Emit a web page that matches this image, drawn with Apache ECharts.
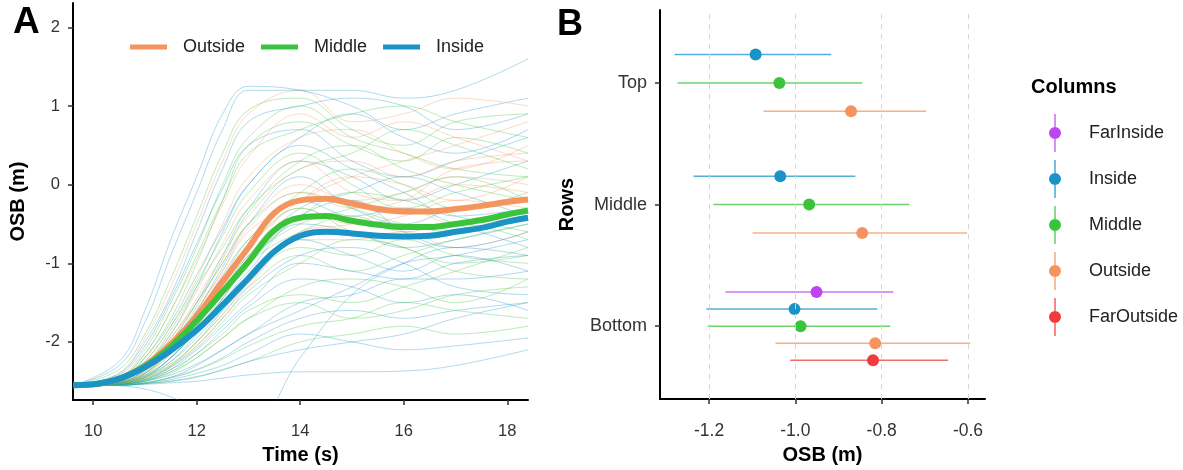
<!DOCTYPE html>
<html>
<head>
<meta charset="utf-8">
<script src="https://cdn.jsdelivr.net/npm/echarts@6/dist/echarts.min.js"></script>
<style>
  html, body { margin: 0; padding: 0; background: #fff; }
  #chartA { position: absolute; left: 0; top: 0; width: 540px; height: 470px; }
  #chartB { position: absolute; left: 540px; top: 0; width: 643px; height: 470px; }
</style>
</head>
<body>
<div id="chartA"></div>
<div id="chartB"></div>
<script>
// ---------- panel A data ----------
const meanNames = ['Outside', 'Middle', 'Inside'];
const meanColors = ['#F4955F', '#3CC33C', '#1B93C7'];
const meanTime = [9.61, 10, 10.5, 11, 11.5, 12, 12.5, 13, 13.5, 14, 14.5, 15, 15.5, 16, 16.5, 17, 17.5, 18, 18.4];
const meanOutside = [-2.55, -2.54, -2.47, -2.30, -2.03, -1.67, -1.23, -0.80, -0.36, -0.20, -0.18, -0.24, -0.31, -0.34, -0.34, -0.31, -0.27, -0.22, -0.19];
const meanMiddle = [-2.55, -2.54, -2.47, -2.31, -2.06, -1.73, -1.36, -0.98, -0.58, -0.42, -0.40, -0.46, -0.51, -0.54, -0.54, -0.50, -0.45, -0.38, -0.33];
const meanInside = [-2.55, -2.54, -2.47, -2.32, -2.11, -1.85, -1.53, -1.19, -0.85, -0.65, -0.60, -0.62, -0.65, -0.66, -0.65, -0.60, -0.55, -0.47, -0.42];

// individual trials (faint lines), sampled at traceTime; group 0/1/2 = Outside/Middle/Inside
const traceTime = [9.61, 10.5, 11, 11.5, 12, 12.5, 13, 14, 15, 16, 17, 18.4];
const traceGroup = [2, 1, 0, 2, 1, 0, 2, 1, 0, 2, 1, 2, 1, 2, 0, 2, 1, 0, 2, 1, 2, 1, 0, 2, 1, 2, 1, 2, 2, 1, 2,
  1, 2, 0, 1, 2, 0, 1, 2, 1, 0, 2, 1, 2, 1, 0, 2, 1, 2, 1, 2, 0, 1, 2, 0, 1];
const traceValues = [
  [-2.55, -2.25, -1.60, -0.70, 0.10, 0.90, 1.25, 1.20, 1.00, 0.70, 0.90, 1.10],
  [-2.55, -2.50, -2.20, -1.70, -1.00, -0.20, 0.50, 0.80, 0.50, 0.30, 0.60, 0.40],
  [-2.55, -2.50, -2.25, -1.80, -1.20, -0.50, 0.10, 0.60, 0.70, 0.40, 0.20, 0.50],
  [-2.55, -2.52, -2.35, -2.00, -1.50, -0.90, -0.30, 0.30, 0.10, -0.20, 0.00, 0.30],
  [-2.55, -2.52, -2.40, -2.10, -1.70, -1.20, -0.70, -0.10, 0.20, 0.00, -0.30, -0.10],
  [-2.55, -2.52, -2.38, -2.00, -1.50, -1.00, -0.50, 0.00, -0.20, -0.10, 0.10, 0.00],
  [-2.55, -2.53, -2.45, -2.25, -1.90, -1.50, -1.10, -0.50, -0.60, -0.80, -0.70, -0.50],
  [-2.55, -2.53, -2.45, -2.20, -1.85, -1.45, -1.00, -0.60, -0.40, -0.60, -0.50, -0.70],
  [-2.55, -2.53, -2.42, -2.15, -1.80, -1.30, -0.90, -0.30, -0.50, -0.40, -0.20, -0.30],
  [-2.55, -2.54, -2.50, -2.35, -2.10, -1.80, -1.50, -1.00, -1.10, -1.20, -1.00, -0.90],
  [-2.55, -2.54, -2.50, -2.40, -2.20, -1.95, -1.70, -1.30, -1.20, -1.30, -1.50, -1.20],
  [-2.55, -2.54, -2.52, -2.45, -2.35, -2.20, -2.00, -1.70, -1.60, -1.70, -1.60, -1.50],
  [-2.55, -2.55, -2.53, -2.50, -2.45, -2.35, -2.25, -2.00, -1.90, -1.80, -1.90, -1.80],
  [-2.55, -2.55, -2.54, -2.52, -2.50, -2.46, -2.42, -2.38, -2.38, -2.37, -2.30, -2.10],
  [-2.55, -2.40, -1.95, -1.30, -0.50, 0.30, 0.90, 1.20, 0.80, 0.90, 1.10, 1.00],
  [-2.55, -2.50, -2.30, -1.90, -1.30, -0.60, 0.00, 0.60, 0.90, 0.60, 0.40, 0.70],
  [-2.55, -2.51, -2.30, -1.85, -1.30, -0.80, -0.30, 0.20, 0.40, 0.70, 0.50, 0.20],
  [-2.55, -2.53, -2.40, -2.10, -1.60, -1.10, -0.60, -0.20, 0.10, 0.30, 0.50, 0.80],
  [-2.55, -2.53, -2.43, -2.20, -1.80, -1.35, -0.90, -0.30, -0.10, 0.10, -0.10, -0.40],
  [-2.55, -2.54, -2.47, -2.30, -2.00, -1.60, -1.20, -0.80, -0.90, -0.70, -0.90, -1.00],
  [-2.55, -2.54, -2.48, -2.32, -2.05, -1.70, -1.35, -0.90, -0.80, -1.00, -1.30, -1.40],
  [-2.55, -2.54, -2.49, -2.38, -2.15, -1.90, -1.60, -1.40, -1.50, -1.30, -1.10, -0.80],
  [-2.55, -2.53, -2.46, -2.30, -2.05, -1.70, -1.30, -0.70, -0.70, -0.60, -0.80, -0.60],
  [-2.55, -2.55, -2.53, -2.48, -2.40, -2.30, -2.15, -1.90, -2.00, -2.10, -2.05, -1.95],
  [-2.55, -2.45, -2.10, -1.50, -0.80, 0.00, 0.60, 1.00, 0.60, 0.40, 0.20, 0.10],
  [-2.55, -2.52, -2.36, -2.05, -1.60, -1.05, -0.50, 0.10, -0.30, -0.50, -0.30, -0.20],
  [-2.55, -2.53, -2.44, -2.20, -1.85, -1.40, -0.95, -0.50, -0.30, -0.10, 0.10, -0.20],
  [-2.55, -2.55, -2.52, -2.45, -2.30, -2.10, -1.90, -1.60, -1.30, -1.00, -0.90, -0.70],
  [-2.55, -2.30, -1.75, -0.90, -0.10, 0.70, 1.20, 1.20, 1.20, 1.10, 1.20, 1.60],
  [-2.55, -2.52, -2.40, -2.05, -1.55, -0.95, -0.35, 0.30, 0.50, 0.20, 0.00, -0.20],
  [-2.55, -2.56, -2.60, -2.70, -2.85, -3.00, -3.10, -2.20, -1.40, -1.00, -0.80, -0.90],
  [-2.55, -2.35, -1.90, -1.20, -0.40, 0.40, 0.95, 1.10, 0.70, 0.50, 0.80, 0.90],
  [-2.55, -2.42, -2.05, -1.45, -0.75, -0.05, 0.50, 0.70, 0.30, 0.10, 0.30, 0.60],
  [-2.55, -2.45, -2.15, -1.60, -0.95, -0.25, 0.35, 0.90, 0.60, 0.80, 0.60, 0.30],
  [-2.55, -2.48, -2.25, -1.80, -1.25, -0.65, -0.10, 0.40, 0.00, -0.30, -0.10, 0.10],
  [-2.55, -2.47, -2.20, -1.75, -1.15, -0.55, 0.00, 0.50, 0.20, -0.10, -0.40, -0.30],
  [-2.55, -2.50, -2.30, -1.95, -1.45, -0.90, -0.40, 0.20, 0.30, 0.10, 0.30, 0.40],
  [-2.55, -2.50, -2.32, -1.95, -1.50, -1.00, -0.50, -0.10, -0.30, -0.50, -0.60, -0.40],
  [-2.55, -2.51, -2.36, -2.05, -1.65, -1.15, -0.70, -0.20, -0.40, -0.30, -0.50, -0.80],
  [-2.55, -2.52, -2.40, -2.15, -1.80, -1.40, -1.00, -0.40, -0.10, -0.20, -0.40, -0.60],
  [-2.55, -2.52, -2.40, -2.10, -1.70, -1.20, -0.80, -0.20, 0.10, 0.00, -0.20, 0.10],
  [-2.55, -2.53, -2.44, -2.25, -1.95, -1.60, -1.25, -0.70, -0.90, -1.10, -0.90, -1.10],
  [-2.55, -2.53, -2.45, -2.28, -2.00, -1.65, -1.30, -0.90, -1.10, -0.90, -0.70, -0.50],
  [-2.55, -2.54, -2.48, -2.35, -2.15, -1.85, -1.55, -1.20, -1.30, -1.50, -1.40, -1.60],
  [-2.55, -2.54, -2.49, -2.38, -2.20, -1.95, -1.70, -1.50, -1.70, -1.60, -1.40, -1.30],
  [-2.55, -2.53, -2.46, -2.30, -2.00, -1.65, -1.25, -0.60, -0.50, -0.30, -0.50, -0.40],
  [-2.55, -2.54, -2.50, -2.42, -2.28, -2.10, -1.90, -1.50, -1.40, -1.20, -1.20, -1.10],
  [-2.55, -2.55, -2.52, -2.46, -2.36, -2.22, -2.05, -1.80, -1.70, -1.50, -1.60, -1.70],
  [-2.55, -2.55, -2.53, -2.50, -2.44, -2.36, -2.25, -2.10, -2.00, -1.90, -1.70, -1.50],
  [-2.55, -2.46, -2.15, -1.60, -0.90, -0.20, 0.40, 0.70, 0.90, 1.00, 0.80, 0.60],
  [-2.55, -2.40, -2.00, -1.40, -0.60, 0.20, 0.80, 1.00, 1.10, 1.00, 0.70, 0.90],
  [-2.55, -2.49, -2.28, -1.90, -1.35, -0.75, -0.20, 0.30, -0.10, -0.20, 0.00, -0.10],
  [-2.55, -2.51, -2.38, -2.10, -1.70, -1.25, -0.80, -0.30, -0.60, -0.80, -1.00, -0.90],
  [-2.55, -2.52, -2.42, -2.20, -1.85, -1.45, -1.00, -0.40, -0.20, -0.60, -0.80, -0.60],
  [-2.55, -2.51, -2.36, -2.05, -1.60, -1.10, -0.55, -0.10, -0.30, -0.20, 0.20, 0.30],
  [-2.55, -2.53, -2.47, -2.32, -2.08, -1.75, -1.40, -1.00, -0.70, -0.80, -1.10, -1.20]
];
const timeTicks = [10, 12, 14, 16, 18];
const osbTicks = [-2, -1, 0, 1, 2];

// ---------- panel B data ----------
const rowNames = ['Bottom', 'Middle', 'Top'];
const columnNames = ['FarInside', 'Inside', 'Middle', 'Outside', 'FarOutside'];
const columnColors = ['#BE45F2', '#1B93C7', '#3CC33C', '#F4955F', '#EE3B3B'];
// per column, one value per row (Bottom, Middle, Top); null = not measured
const estimate = [
  [-0.951, null, null],
  [-1.002, -1.035, -1.092],
  [-0.988, -0.968, -1.037],
  [-0.815, -0.845, -0.871],
  [-0.820, null, null]
];
const lower = [
  [-1.162, null, null],
  [-1.206, -1.236, -1.280],
  [-1.203, -1.190, -1.273],
  [-1.046, -1.099, -1.074],
  [-1.012, null, null]
];
const upper = [
  [-0.773, null, null],
  [-0.810, -0.861, -0.917],
  [-0.780, -0.736, -0.845],
  [-0.595, -0.602, -0.697],
  [-0.646, null, null]
];
const osbTicksB = [-1.2, -1.0, -0.8, -0.6];

const textColor = '#333';
const font = 'Liberation Sans, Arial, sans-serif';

// ---------- panel A ----------
const chartA = echarts.init(document.getElementById('chartA'));
const seriesA = [];
traceValues.forEach((vals, i) => {
  seriesA.push({
    name: 'trial' + i,
    type: 'line',
    data: traceTime.map((t, j) => [t, vals[j]]),
    smooth: 0.4,
    symbol: 'none',
    silent: true,
    lineStyle: { width: 1, color: meanColors[traceGroup[i]], opacity: 0.34 },
    z: 1
  });
});
const meanData = [meanOutside, meanMiddle, meanInside];
meanNames.forEach((name, i) => {
  seriesA.push({
    name: name,
    type: 'line',
    data: meanTime.map((t, j) => [t, meanData[i][j]]),
    smooth: 0.4,
    symbol: 'none',
    color: meanColors[i],
    lineStyle: { width: 6, color: meanColors[i] },
    z: 5
  });
});

chartA.setOption({
  animation: false,
  textStyle: { fontFamily: font },
  title: {
    text: 'A', left: 13, top: 4, padding: 0,
    textStyle: { fontSize: 37, fontWeight: 'bold', color: '#000' }
  },
  legend: {
    data: meanNames,
    left: 130, top: 38, padding: 0,
    icon: 'rect', itemWidth: 37, itemHeight: 5, itemGap: 16,
    textStyle: { fontSize: 18, color: '#222', padding: [0, 0, 0, 11] }
  },
  grid: { left: 73, top: 3, width: 455, height: 404 },
  xAxis: {
    type: 'value', min: 9.61, max: 18.4,
    name: 'Time (s)', nameLocation: 'middle', nameGap: 41,
    nameTextStyle: { fontSize: 20, fontWeight: 'bold', color: '#000' },
    axisLine: { show: true, onZero: false, lineStyle: { color: '#000', width: 2 } },
    axisTick: { show: true, customValues: timeTicks, length: 5, lineStyle: { color: '#333', width: 1.5 } },
    axisLabel: { customValues: timeTicks, fontSize: 16.5, color: textColor, margin: 23 },
    splitLine: { show: false }
  },
  yAxis: {
    type: 'value', min: -2.74, max: 2.31,
    name: 'OSB (m)', nameLocation: 'middle', nameGap: 45, nameRotate: 90,
    nameTextStyle: { fontSize: 20, fontWeight: 'bold', color: '#000' },
    axisLine: { show: true, onZero: false, lineStyle: { color: '#000', width: 2 } },
    axisTick: { show: true, customValues: osbTicks, length: 5, lineStyle: { color: '#333', width: 1.5 } },
    axisLabel: { customValues: osbTicks, fontSize: 16.5, color: textColor, margin: 13 },
    splitLine: { show: false }
  },
  series: seriesA
});

// ---------- panel B ----------
const chartB = echarts.init(document.getElementById('chartB'));
const dodgeWidth = 0.7;

const seriesB = [{
  name: 'grid',
  type: 'line',
  data: [],
  silent: true,
  markLine: {
    silent: true, symbol: 'none', label: { show: false },
    lineStyle: { type: [5, 5], color: '#d6d6d6', width: 1 },
    data: osbTicksB.map(v => ({ xAxis: v }))
  }
}];

columnNames.forEach((name, c) => {
  const data = [];
  rowNames.forEach((row, r) => {
    if (estimate[c][r] === null) return;
    // dodge within the row like position_dodge
    const present = columnNames.map((_, k) => k).filter(k => estimate[k][r] !== null);
    const n = present.length;
    const idx = present.indexOf(c);
    const y = (r + 1) + ((n - 1) / 2 - idx) * (dodgeWidth / n);
    data.push([estimate[c][r], lower[c][r], upper[c][r], y]);
  });
  seriesB.push({
    name: name,
    type: 'custom',
    itemStyle: { color: columnColors[c] },
    encode: { x: [0, 1, 2], y: 3 },
    data: data,
    renderItem: function (params, api) {
      const y = api.value(3);
      const lo = api.coord([api.value(1), y]);
      const hi = api.coord([api.value(2), y]);
      const mid = api.coord([api.value(0), y]);
      const color = api.visual('color');
      return {
        type: 'group',
        children: [
          { type: 'line', shape: { x1: lo[0], y1: lo[1], x2: hi[0], y2: hi[1] },
            style: { stroke: color, lineWidth: 1.5, opacity: 0.75 } },
          { type: 'circle', shape: { cx: mid[0], cy: mid[1], r: 6 },
            style: { fill: color } }
        ]
      };
    }
  });
});

// legend key: vertical line with a dot in the middle
const keyIcon = 'path://M5.4,0 L6.6,0 L6.6,13 L5.4,13 Z M5.4,25 L6.6,25 L6.6,38 L5.4,38 Z M0,19 A6,6 0 1,1 12,19 A6,6 0 1,1 0,19 Z';

chartB.setOption({
  animation: false,
  textStyle: { fontFamily: font },
  title: [
    { text: 'B', left: 17, top: 7, padding: 0,
      textStyle: { fontSize: 36, fontWeight: 'bold', color: '#000' } },
    { text: 'Columns', left: 491, top: 77, padding: 0,
      textStyle: { fontSize: 20, fontWeight: 'bold', color: '#000' } }
  ],
  legend: {
    data: columnNames,
    orient: 'vertical',
    left: 509, top: 114, padding: 0,
    icon: keyIcon, itemWidth: 12, itemHeight: 38, itemGap: 8,
    textStyle: { fontSize: 18, color: '#222', padding: [0, 0, 0, 23] }
  },
  grid: { left: 120, top: 10, width: 325, height: 397 },
  xAxis: {
    type: 'value', min: -1.3136, max: -0.5606,
    name: 'OSB (m)', nameLocation: 'middle', nameGap: 41,
    nameTextStyle: { fontSize: 20, fontWeight: 'bold', color: '#000' },
    axisLine: { show: true, onZero: false, lineStyle: { color: '#000', width: 2 } },
    axisTick: { show: true, customValues: osbTicksB, length: 5, lineStyle: { color: '#333', width: 1.5 } },
    axisLabel: { customValues: osbTicksB, fontSize: 17.5, color: textColor, margin: 23,
      formatter: v => v.toFixed(1) },
    splitLine: { show: false }
  },
  yAxis: {
    type: 'value', min: 0.4, max: 3.6,
    name: 'Rows', nameLocation: 'middle', nameGap: 83, nameRotate: 90,
    nameTextStyle: { fontSize: 20, fontWeight: 'bold', color: '#000' },
    axisLine: { show: true, onZero: false, lineStyle: { color: '#000', width: 2 } },
    axisTick: { show: true, customValues: [1, 2, 3], length: 5, lineStyle: { color: '#333', width: 1.5 } },
    axisLabel: { customValues: [1, 2, 3], fontSize: 18, color: textColor, margin: 13,
      formatter: v => rowNames[Math.round(v) - 1] },
    splitLine: { show: false }
  },
  series: seriesB
});
</script>
</body>
</html>
